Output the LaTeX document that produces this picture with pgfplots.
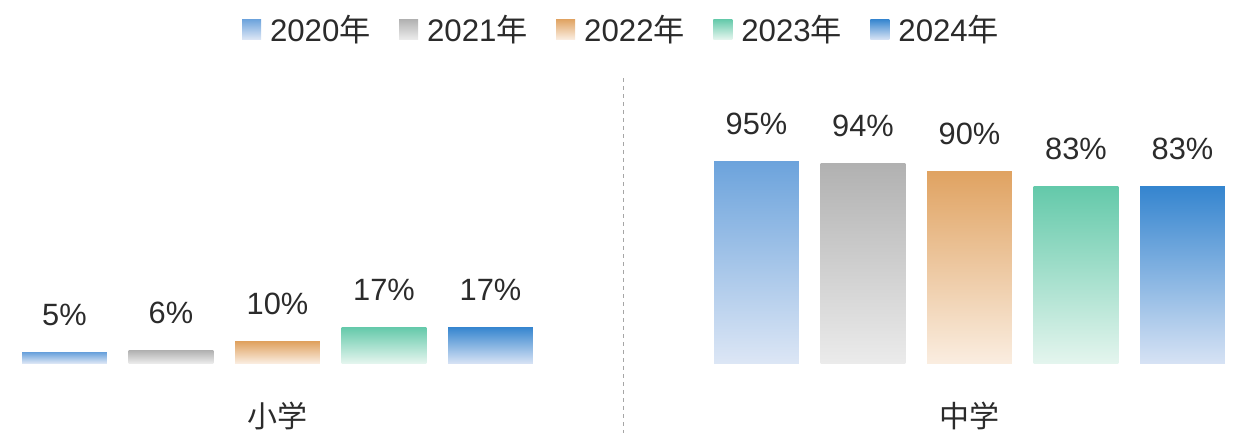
\documentclass[border=0pt]{standalone}
\usepackage{fontspec}
\setmainfont{Liberation Sans}
\newfontfamily\cjk{Noto Sans CJK SC}
\usepackage{pgfplots}
\pgfplotsset{compat=1.18}
\definecolor{txt}{HTML}{2B2B2B}
\definecolor{aT}{HTML}{6CA3DC}\definecolor{aB}{HTML}{DCE6F5}
\definecolor{bT}{HTML}{B1B1B1}\definecolor{bB}{HTML}{EBEBEB}
\definecolor{cT}{HTML}{E0A362}\definecolor{cB}{HTML}{FAEDE0}
\definecolor{dT}{HTML}{64C9AA}\definecolor{dB}{HTML}{E4F5EE}
\definecolor{eT}{HTML}{3585CF}\definecolor{eB}{HTML}{D6E2F4}
\pgfplotsset{
  s20/.style={draw=none, top color=aT, bottom color=aB, bar shift=-0.3078},
  s21/.style={draw=none, top color=bT, bottom color=bB, bar shift=-0.1539},
  s22/.style={draw=none, top color=cT, bottom color=cB, bar shift=0},
  s23/.style={draw=none, top color=dT, bottom color=dB, bar shift=0.1539},
  s24/.style={draw=none, top color=eT, bottom color=eB, bar shift=0.3078},
}
\begin{document}
\begin{tikzpicture}
\begin{axis}[
  scale only axis,
  width=621.5pt, height=181.5pt,
  xmin=-0.40101, xmax=1.39523,
  ymin=0, ymax=170.72,
  ybar,
  bar width=0.1228,
  clip=false,
  axis line style={draw=none},
  major tick length=0pt,
  ytick=\empty,
  xtick={0,1},
  xticklabels={{\cjk 小学},{\cjk 中学}},
  xticklabel style={anchor=center, inner sep=0pt, yshift=-26.25pt, font=\fontsize{15}{18}\selectfont, text=txt},
  /pgf/number format/assume math mode=true,
  nodes near coords={\pgfmathprintnumber[fixed,precision=0]{\pgfplotspointmeta}\%},
  every node near coord/.append style={anchor=base, inner sep=0pt, yshift=13.5pt, font=\fontsize{15.4}{18}\selectfont, text=txt},
  legend columns=5,
  legend style={at={(axis cs:0.4986,156.6)}, anchor=center, draw=none, fill=none,
    font=\fontsize{15.6}{18}\selectfont, text=txt,
    /tikz/every odd column/.append style={column sep=2.5pt},
    /tikz/every even column/.append style={column sep=12.25pt}},
  legend image code/.code={\path[#1] (0pt,-4.5pt) rectangle (9.5pt,5.5pt);},
  legend cell align=left,
]
% 2020
\addplot[s20] coordinates {(0,5)};
\addplot[s20, forget plot] coordinates {(1,95)};
% 2021
\addplot[s21] coordinates {(0,6)};
\addplot[s21, forget plot] coordinates {(1,94)};
% 2022
\addplot[s22] coordinates {(0,10)};
\addplot[s22, forget plot] coordinates {(1,90)};
% 2023
\addplot[s23] coordinates {(0,17)};
\addplot[s23, forget plot] coordinates {(1,83)};
% 2024
\addplot[s24] coordinates {(0,17)};
\addplot[s24, forget plot] coordinates {(1,83)};
\legend{{2020\cjk 年},{2021\cjk 年},{2022\cjk 年},{2023\cjk 年},{2024\cjk 年}}
\draw[gray!70, line width=0.5pt, dash pattern=on 2pt off 2pt] (axis cs:0.49928,134.04) -- (axis cs:0.49928,-32.92);
\path (axis cs:-0.40101,-37.62) rectangle (axis cs:1.39523,170.72);
\end{axis}
\end{tikzpicture}
\end{document}
